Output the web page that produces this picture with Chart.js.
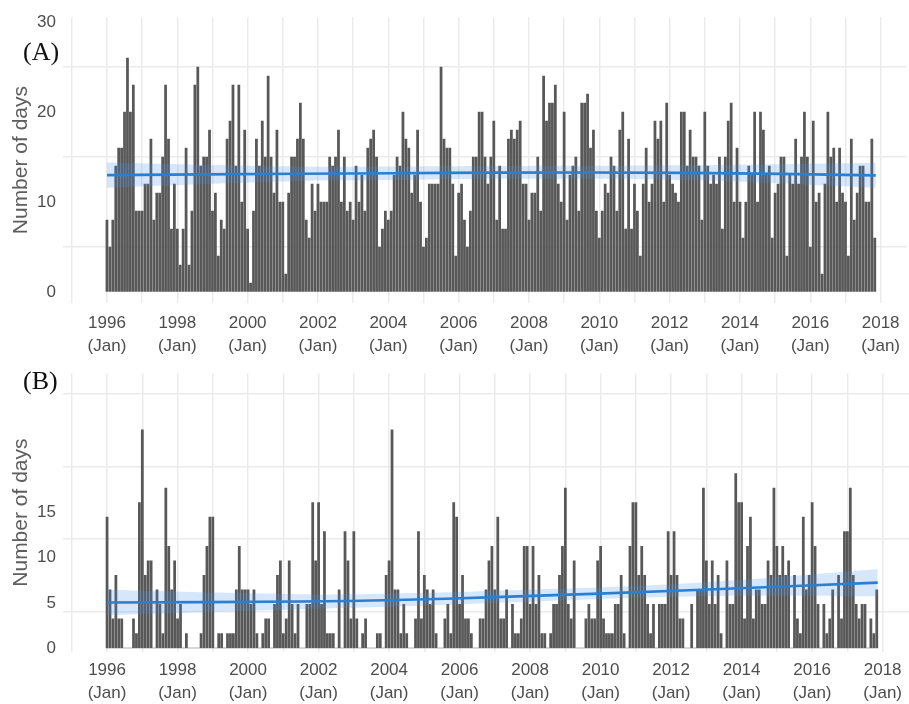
<!DOCTYPE html>
<html>
<head>
<meta charset="utf-8">
<script src="https://cdn.jsdelivr.net/npm/chart.js@4.4.1/dist/chart.umd.min.js"></script>
<style>
  body { margin: 0; background: #fff; }
  #wrap { position: relative; width: 909px; height: 704px; overflow: hidden; }
  .panel { position: absolute; left: 0; width: 909px; }
  .tag { position: absolute; left: 23px; font-family: "Liberation Serif", "DejaVu Serif", serif; font-size: 26px; line-height: 26px; color: #111; }
</style>
</head>
<body>
<div id="wrap">
  <div class="panel" style="top:0;height:356px"><canvas id="chartA" width="909" height="356"></canvas></div>
  <div class="panel" style="top:356px;height:348px"><canvas id="chartB" width="909" height="348"></canvas></div>
  <div class="tag" style="top:39px">(A)</div>
  <div class="tag" style="top:368px">(B)</div>
</div>
<script>
// monthly counts, Jan 1996 .. Nov 2017
const startYear = 1996;

const monthsA = [
  8,5,8,14,16,16,20,26,20,23, 9,9,9,12,12,17,8,11,11,15, 23,17,7,12,7,3,7,16,3,9,
  23,25,14,15,15,18,9,11,4,8, 7,17,19,23,14,23,10,18,7,1, 9,17,14,19,15,24,15,11,18,10,
  10,2,11,15,
  15,17,21,17,8,6,12,9,12,10, 10,10,15,14,15,18,10,15,9,10, 8,14,10,13,9,16,17,18,15,5,
  7,9,8,9,13,15,14,20,17,16, 11,13,18,10,5,6,12,12,12,12, 25,17,16,16,12,4,11,12,8,5,
  9,15,15,20,20,15,12,15,
  19,8,14,7,7,17,18,17,18,19, 12,12,8,11,11,15,9,24,19,21, 21,23,12,10,20,8,13,14,15,9,
  21,21,22,16,18,9,6,9,12,11, 15,14,9,18,20,7,17,7,12,9, 4,12,16,10,12,19,17,19,10,21,
  13,12,11,10,20,20,14,
  18,15,15,14,8,20,14,12,13,12, 15,7,15,19,21,10,16,10,6,10, 14,13,20,10,20,18,13,14,6,11,
  12,15,15,4,13,12,17,12,15,20, 15,5,19,10,11,2,12,20,15,16, 10,16,11,10,4,17,8,11,14,14,
  10,10,17,6
];

const monthsB = [
  9,4,2,5,2,2,0,0,0,2, 1,10,15,5,6,6,0,4,3,1, 11,7,4,6,2,3,0,1,0,0,
  0,0,1,5,7,9,9,0,1,1, 0,1,1,1,4,7,4,4,4,3, 4,1,0,1,2,2,0,3,5,6,
  1,2,6,3,1,3,0,0,3,3, 10,6,10,3,8,1,1,1,0,4, 0,8,6,2,8,2,0,1,2,0,
  0,0,1,1,0,5,6,15,4,4, 1,3,1,0,0,2,8,2,5,4, 3,4,1,0,0,2,3,1,10,9,
  3,5,2,2,1,0,0,2,2,4, 6,7,4,9,2,2,4,0,3,1, 1,2,7,7,3,7,3,5,1,1,
  0,1,3,3,5,7,11,3,2,6, 0,0,0,2,3,2,2,6,7,2, 1,1,1,3,3,5,1,0,7,10,
  10,5,7,5,3,1,3,0,3,3, 3,8,5,8,5,2,2,0,0,3, 0,4,4,11,6,3,6,3,5,1,
  0,6,3,3,12,10,10,2,7,9, 2,4,4,3,3,6,5,11,7,5, 7,5,6,0,5,2,1,9,4,5,
  10,7,3,0,3,1,2,4,0,5, 2,8,8,11,5,3,2,3,3,0, 2,1,4
];

// smoothed trend + confidence band
const trendYears = [1996, 2001.5, 2004.2, 2007, 2012.5, 2017.86];
const fitA = [13.0, 13.15, 13.2, 13.27, 13.25, 12.97];
const loA  = [11.6, 12.35, 12.45, 12.6, 12.45, 11.6];
const hiA  = [14.4, 13.95, 13.95, 14.0, 14.08, 14.37];
const fitB = [3.13, 3.2, 3.3, 3.5, 3.97, 4.5];
const loB  = [2.26, 2.67, 2.85, 3.1, 3.55, 3.56];
const hiB  = [4.0, 3.7, 3.75, 3.93, 4.45, 5.41];

const yearTicks = [1995,1996,1997,1998,1999,2000,2001,2002,2003,2004,2005,2006,
  2007,2008,2009,2010,2011,2012,2013,2014,2015,2016,2017,2018];
const yTicksA = [0, 5, 10, 15, 20, 25, 30];
const yGridB = [2.5, 7.5, 12.5, 17.5];
const yLabelsB = [0, 5, 10, 15];

Chart.defaults.font.family = "'Liberation Sans', Arial, sans-serif";

const gridGrey = '#ebebeb';
const textGrey = '#4d4d4d';

function pts(xs, ys) {
  return xs.map((x, i) => ({ x: x, y: ys[i] }));
}

function datasets(values, fit, lo, hi) {
  return [
    {
      type: 'bar',
      data: values.map((v, i) => ({ x: startYear + i / 12, y: v })),
      backgroundColor: '#585858',
      barThickness: 2.1,
      order: 3
    },
    {
      type: 'line', data: pts(trendYears, lo),
      borderWidth: 0, borderColor: 'rgba(0,0,0,0)', pointRadius: 0,
      tension: 0.4, fill: false, order: 2
    },
    {
      type: 'line', data: pts(trendYears, hi),
      borderWidth: 0, borderColor: 'rgba(0,0,0,0)', pointRadius: 0,
      tension: 0.4, fill: '-1', backgroundColor: 'rgba(70,145,240,0.22)', order: 2
    },
    {
      type: 'line', data: pts(trendYears, fit),
      borderColor: '#2b7fd0', borderWidth: 2.6, pointRadius: 0,
      tension: 0.4, fill: false, order: 1
    }
  ];
}

function xScale(xHeight, pad) {
  return {
    type: 'linear', min: 1994.75, max: 2018.74,
    offset: false,
    afterBuildTicks: s => { s.ticks = yearTicks.map(v => ({ value: v })); },
    afterFit: s => { s.height = xHeight; },
    border: { display: false },
    grid: { color: gridGrey, lineWidth: 1.5, drawTicks: false, offset: false },
    ticks: {
      autoSkip: false, maxRotation: 0, padding: pad, color: textGrey,
      font: { size: 17, lineHeight: 1.35 },
      callback: v => (v % 2 === 0 ? [String(v), '(Jan)'] : '')
    }
  };
}

const yTitle = {
  display: true, text: 'Number of days', color: '#5e5e5e',
  font: { size: 21 }, padding: { top: 9, bottom: 0 }
};

const common = {
  responsive: false,
  animation: false,
  plugins: { legend: { display: false }, tooltip: { enabled: false } }
};

new Chart(document.getElementById('chartA'), {
  type: 'bar',
  data: { datasets: datasets(monthsA, fitA, loA, hiA) },
  options: Object.assign({}, common, {
    layout: { padding: { top: 15, left: 0, right: 0, bottom: 0 } },
    scales: {
      x: xScale(53, 9),
      y: {
        min: -1.21, max: 30.54,
        afterBuildTicks: s => { s.ticks = yTicksA.map(v => ({ value: v })); },
        afterFit: s => { s.width = 63; },
        border: { display: false },
        grid: {
          drawTicks: false, lineWidth: 1.5,
          color: c => (c.tick && c.tick.value % 10 !== 0 ? gridGrey : 'rgba(0,0,0,0)')
        },
        ticks: {
          padding: 7, color: textGrey, font: { size: 17 },
          callback: v => (v % 10 === 0 ? String(v) : '')
        },
        title: yTitle
      }
    }
  })
});

new Chart(document.getElementById('chartB'), {
  type: 'bar',
  data: { datasets: datasets(monthsB, fitB, loB, hiB) },
  options: Object.assign({}, common, {
    layout: { padding: { top: 16, left: 0, right: 0, bottom: 0 } },
    scales: {
      x: xScale(52, 7),
      y: {
        position: 'right',
        min: -0.274, max: 18.9,
        afterBuildTicks: s => { s.ticks = yGridB.map(v => ({ value: v })); },
        afterFit: s => { s.width = 0; },
        border: { display: false },
        grid: { color: gridGrey, lineWidth: 1.5, drawTicks: false },
        ticks: { display: false }
      },
      yl: {
        position: 'left',
        min: -0.441, max: 30.43,
        afterBuildTicks: s => { s.ticks = yLabelsB.map(v => ({ value: v })); },
        afterFit: s => { s.width = 63; },
        border: { display: false },
        grid: { display: false, drawTicks: false },
        ticks: { padding: 7, color: textGrey, font: { size: 17 } },
        title: yTitle
      }
    }
  })
});
</script>
</body>
</html>
